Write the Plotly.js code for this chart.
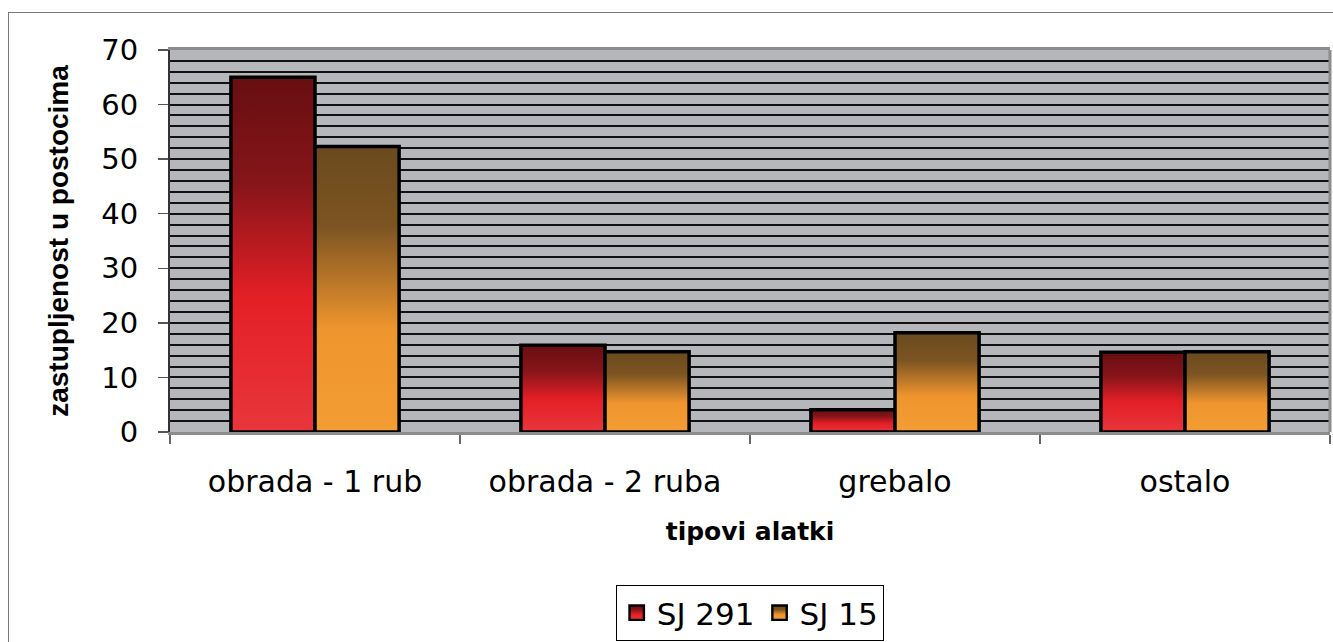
<!DOCTYPE html>
<html>
<head>
<meta charset="utf-8">
<script src="https://cdn.plot.ly/plotly-3.0.1.min.js"></script>
<style>
  html, body { margin: 0; padding: 0; background: #fff; overflow: hidden; }
  #wrap { position: relative; width: 1333px; height: 642px; }
  #chart { position: absolute; left: 0; top: 0; width: 1333px; height: 642px; }
  #frame { position: absolute; left: 8px; top: 12px; width: 1340px; height: 660px;
           border: 1.5px solid #7a7a7a; pointer-events: none; }
</style>
</head>
<body>
<div id="wrap">
  <div id="chart"></div>
  <div id="frame"></div>
</div>
<script>
const categories = ['obrada - 1 rub', 'obrada - 2 ruba', 'grebalo', 'ostalo'];
const seriesNames = ['SJ 291', 'SJ 15'];
const sj291 = [65.0, 15.9, 4.1, 14.6];
const sj15 = [52.3, 14.7, 18.2, 14.7];
const yTickVals = [0, 10, 20, 30, 40, 50, 60, 70];

const FONT = '"DejaVu Sans", "Liberation Sans", Arial, sans-serif';
const FONT_Y = '"Liberation Sans", Arial, Helvetica, sans-serif';

const traces = [
  { type: 'bar', name: seriesNames[0], x: categories, y: sj291,
    marker: { color: '#e41f26', line: { color: '#000', width: 3.5 } } },
  { type: 'bar', name: seriesNames[1], x: categories, y: sj15,
    marker: { color: '#ee952e', line: { color: '#000', width: 3.5 } } }
];

const layout = {
  width: 1333, height: 642,
  margin: { l: 170, r: 3, t: 50, b: 210, autoexpand: false },
  paper_bgcolor: 'rgba(0,0,0,0)',
  plot_bgcolor: '#b5b7ba',
  font: { family: FONT, color: '#000' },
  barmode: 'group', bargap: 0.42, bargroupgap: 0,
  showlegend: true,
  legend: {
    orientation: 'h', x: 0.5, xanchor: 'center', y: -0.4, yanchor: 'top',
    bgcolor: '#fff', bordercolor: '#000', borderwidth: 1.2,
    font: { family: FONT, size: 31, color: '#000' },
    itemsizing: 'constant', traceorder: 'normal', itemwidth: 30
  },
  shapes: [
    { type: 'line', xref: 'paper', yref: 'paper', x0: 1, x1: 1, y0: 0, y1: 1,
      line: { color: '#8a8c8e', width: 3 } }
  ],
  xaxis: {
    type: 'category',
    tickson: 'boundaries', ticks: 'outside', ticklen: 9, tickwidth: 1.5, tickcolor: '#666',
    showline: true, linecolor: '#8a8c8e', linewidth: 3, mirror: true,
    tickfont: { family: FONT, size: 30, color: '#000' },
    ticklabelstandoff: 21,
    title: { text: '<b>tipovi alatki</b>', font: { family: FONT, size: 25, color: '#000' }, standoff: 25 },
    showgrid: false, zeroline: false
  },
  yaxis: {
    range: [0, 70], tickvals: yTickVals,
    ticks: 'outside', ticklen: 10, tickwidth: 1.5, tickcolor: '#555',
    showline: true, linecolor: '#333', linewidth: 2,
    tickfont: { family: FONT, size: 29, color: '#000' },
    ticklabelstandoff: 14,
    showgrid: true, gridcolor: '#111', gridwidth: 2,
    minor: { dtick: 2, showgrid: true, gridcolor: '#111', gridwidth: 2, ticks: '' },
    zeroline: false,
    title: { text: '<b>zastupljenost u postocima</b>', font: { family: FONT_Y, size: 28, color: '#000' }, standoff: 24 }
  }
};

const gradients = [
  { id: 'gradSJ291', stops: [[0, '#680e12'], [0.3, '#861519'], [0.62, '#e41f26'], [1, '#e8363c']] },
  { id: 'gradSJ15', stops: [[0, '#6a4a1e'], [0.28, '#7c5422'], [0.64, '#ef952e'], [1, '#f39d34']] }
];

function applyGradients() {
  const svg = document.querySelector('#chart .main-svg');
  if (!svg) return;
  let defs = svg.querySelector('defs');
  const NS = 'http://www.w3.org/2000/svg';
  if (!defs) { defs = document.createElementNS(NS, 'defs'); svg.insertBefore(defs, svg.firstChild); }
  gradients.forEach(g => {
    if (document.getElementById(g.id)) return;
    const lg = document.createElementNS(NS, 'linearGradient');
    lg.setAttribute('id', g.id);
    lg.setAttribute('x1', '0'); lg.setAttribute('y1', '0');
    lg.setAttribute('x2', '0'); lg.setAttribute('y2', '1');
    g.stops.forEach(s => {
      const st = document.createElementNS(NS, 'stop');
      st.setAttribute('offset', s[0]);
      st.setAttribute('stop-color', s[1]);
      lg.appendChild(st);
    });
    defs.appendChild(lg);
  });
  const traceGroups = document.querySelectorAll('#chart .barlayer .trace.bars');
  traceGroups.forEach((tg, i) => {
    tg.querySelectorAll('path').forEach(p => { p.style.fill = 'url(#' + gradients[i].id + ')'; });
  });
  const legendTraces = document.querySelectorAll('#chart .legend .traces');
  legendTraces.forEach((lt, i) => {
    lt.querySelectorAll('.legendpoints path').forEach(p => {
      p.style.fill = 'url(#' + gradients[i].id + ')';
      p.style.strokeWidth = '2px';
      if (!p.dataset.scaled) {
        const t = p.getAttribute('transform') || '';
        p.setAttribute('transform', (t + ' scale(1.2)').trim());
        p.dataset.scaled = '1';
      }
    });
  });
}

const gd = document.getElementById('chart');
Plotly.newPlot(gd, traces, layout, { staticPlot: true, displayModeBar: false }).then(() => {
  applyGradients();
  gd.on('plotly_afterplot', applyGradients);
});
</script>
</body>
</html>
